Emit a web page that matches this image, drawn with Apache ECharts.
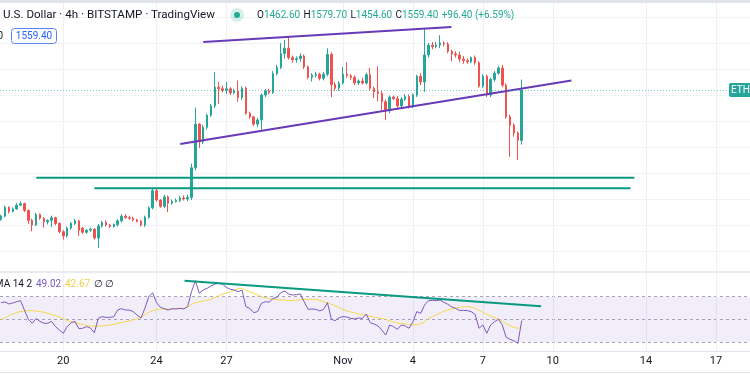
<!DOCTYPE html>
<html><head><meta charset="utf-8">
<script src="https://cdn.jsdelivr.net/npm/echarts@6/dist/echarts.min.js"></script>
<style>html,body{margin:0;padding:0;background:#fff}#c{width:750px;height:375px}</style>
</head><body><div id="c"></div>
<script>
// ---- data (ETH / U.S. Dollar, 4h, BITSTAMP) ----
// x positions are 4-hour slots counted from Oct 17 2022 00:00 UTC
const H4 = 4 * 3600 * 1000;
const slotOrigin = Date.UTC(2022, 9, 17, 0);
const firstCandleSlot = 2;

const opens = [
1311,1317,1334,1326,1331,1338,1341,1328,1309,1300,
1320,1313,1306,1309,1314,1303,1287,1279,1294,1303,
1308,1294,1286,1290,1292,1275,1298,1305,1300,1297,
1301,1308,1317,1314,1313,1310,1307,1300,1315,1333,
1366,1348,1336,1354,1342,1345,1347,1352,1350,1353,
1410,1494,1460,1488,1511,1529,1565,1562,1559,1562,
1554,1558,1545,1563,1515,1508,1494,1502,1550,1558,
1555,1591,1603,1630,1640,1622,1618,1620,1625,1604,
1584,1588,1590,1582,1590,1628,1570,1563,1573,1590,
1587,1584,1573,1577,1573,1589,1563,1556,1553,1537,
1520,1546,1543,1529,1542,1547,1529,1550,1586,1575,
1627,1646,1643,1646,1650,1648,1634,1629,1627,1619,
1616,1614,1622,1612,1567,1586,1550,1580,1592,1602,
1569,1508,1492,1477,1462.6];
const closes = [
1317,1334,1326,1331,1338,1341,1328,1309,1300,1320,
1313,1306,1309,1314,1303,1287,1279,1294,1303,1308,
1290,1286,1290,1292,1275,1298,1305,1300,1297,1301,
1308,1317,1314,1313,1310,1307,1300,1315,1333,1366,
1348,1336,1354,1342,1345,1347,1352,1350,1353,1410,
1494,1460,1488,1511,1529,1565,1562,1559,1562,1554,
1558,1545,1563,1515,1508,1494,1502,1550,1558,1555,
1591,1603,1630,1640,1622,1618,1620,1625,1604,1584,
1588,1590,1582,1590,1628,1570,1563,1573,1590,1587,
1584,1573,1577,1573,1589,1563,1556,1553,1537,1520,
1546,1543,1529,1542,1547,1529,1550,1586,1575,1627,
1646,1643,1646,1650,1648,1634,1629,1627,1619,1616,
1614,1622,1612,1567,1586,1550,1580,1592,1602,1569,
1508,1492,1477,1463.0,1559.4];
const lows = [
1308,1315,1322,1324,1329,1336,1325,1302,1288,1298,
1310,1295,1301,1296,1300,1284,1272,1276,1291,1300,
1279,1283,1283,1287,1272,1256,1295,1297,1294,1295,
1297,1305,1312,1310,1307,1305,1297,1296,1312,1330,
1345,1333,1333,1325,1339,1343,1344,1347,1346,1348,
1405,1448,1456,1484,1508,1525,1533,1555,1552,1550,
1551,1537,1540,1512,1504,1490,1488,1483,1546,1551,
1552,1588,1600,1620,1618,1612,1612,1614,1600,1580,
1576,1584,1578,1578,1586,1546,1558,1558,1570,1583,
1579,1569,1569,1570,1570,1559,1544,1538,1520,1502,
1515,1540,1525,1525,1539,1524,1525,1546,1569,1556,
1622,1638,1640,1640,1643,1630,1615,1622,1613,1610,
1610,1611,1608,1564,1563,1546,1546,1576,1589,1565,
1504,1431,1470,1425,1454.6];
const highs = [
1320,1337,1336,1334,1342,1345,1343,1330,1312,1323,
1322,1315,1311,1318,1316,1305,1290,1297,1306,1312,
1310,1296,1292,1295,1294,1302,1308,1309,1302,1303,
1311,1321,1321,1318,1316,1312,1310,1318,1336,1371,
1372,1350,1358,1357,1349,1351,1356,1357,1358,1418,
1526,1496,1492,1514,1533,1594,1575,1568,1575,1565,
1562,1578,1567,1566,1518,1510,1506,1553,1561,1562,
1596,1608,1650,1656,1662,1626,1624,1630,1628,1607,
1592,1595,1593,1594,1640,1632,1575,1577,1604,1613,
1590,1588,1580,1583,1593,1602,1566,1605,1558,1541,
1549,1549,1548,1546,1552,1551,1553,1589,1592,1679,
1650,1652,1652,1665,1653,1652,1637,1634,1633,1625,
1620,1624,1626,1615,1590,1589,1583,1596,1606,1608,
1572,1512,1495,1480,1579.7];

const rsiValues = [
64.8,65.4,63.6,64.5,65.6,66.5,58.3,50.2,46.7,50.8,
48.4,46.7,46.7,48.4,43.7,40.8,37.9,43.7,47.2,48.4,
42.0,42.3,43.7,42.5,38.4,51.0,52.5,51.9,51.9,52.5,
58.3,59.5,58.3,58.3,56.9,53.9,51.3,59.8,70.0,73.5,
64.8,60.7,59.5,58.3,59.5,59.2,59.8,59.2,61.2,74.4,
84.0,73.0,75.9,77.3,79.4,81.1,81.7,80.8,78.2,76.4,
75.9,74.4,75.9,61.2,59.8,56.0,56.9,64.2,65.6,65.3,
68.5,69.4,73.5,75.0,72.4,71.5,71.8,72.4,65.6,58.9,
59.2,58.9,57.5,58.9,64.8,50.2,49.0,51.6,52.5,52.2,
51.0,50.5,51.3,51.0,54.8,47.2,46.0,44.3,40.8,36.4,
45.2,43.7,41.4,45.2,44.3,42.3,48.1,56.9,55.4,62.7,
66.5,66.8,66.5,67.1,65.0,63.3,61.0,59.8,58.0,58.0,
57.8,56.9,54.5,42.3,45.2,37.9,45.2,48.1,50.2,45.2,
34.4,32.6,31.4,29.1,49.02];

const maSlots = [1.8,4.4,6.9,9.5,12.1,14.7,17.2,19.8,22.4,25,27.5,30.1,32.7,35.3,37.8,40.4,43,45.6,48.1,49.8,
51.6,53.3,55.9,58.4,61,63.6,64.9,67,69.6,72.2,74.7,77.3,79.9,82.5,85,87.6,90.2,92.8,95.3,98.3,
100.9,103.5,106.1,107.8,110.4,112.1,113.8,116.4,119,121.5,123.2,124.9,127.4,130,132.6,135.2,136];
const maValues = [49.6,53.9,56.9,57.8,56.9,54.8,51.9,48.1,46.1,44.3,44.3,45.2,47.2,49.0,51.9,56.9,59.2,59.2,59.8,60.7,
64.2,65.6,67.7,71.5,74.4,77.3,75.9,73.0,69.4,67.7,67.1,66.5,67.7,67.7,65.6,62.7,58.3,56.0,53.9,51.9,
50.2,47.2,46.1,45.2,46.7,51.0,53.9,57.8,59.8,61.2,60.7,58.3,53.9,50.2,45.2,42.3,42.67];

// drawn annotations: [slot, value] end points
const channelUpper = [[54.05, 1651.9], [117.9, 1680.8]];
const channelLower = [[48.1, 1455.8], [148.8, 1577.9]];
const supportHigh = [[11.05, 1391.0], [165.0, 1391.0]];
const supportLow  = [[26.0, 1370.6], [164.0, 1370.6]];
const rsiTrend = [[49.2, 84.0], [141.0, 61.6]];

const tickDays = ['2022-10-20','2022-10-24','2022-10-27','2022-11-01','2022-11-04','2022-11-07','2022-11-10','2022-11-14','2022-11-17'];
const tickLabels = ['20','24','27','Nov','4','7','10','14','17'];
const priceGrid = { min: 1250, max: 1700, step: 50 };

// ---- build ----
const tickSlots = tickDays.map(d => (Date.parse(d + 'T00:00:00Z') - slotOrigin) / H4);
const xMin = 1.71, xMax = 194.76;
const candleData = opens.map((o, k) => [firstCandleSlot + k, o, closes[k], lows[k], highs[k]]);
const rsiData = rsiValues.map((v, k) => [firstCandleSlot + k, v]);
const maData = maSlots.map((s, k) => [s, maValues[k]]);

const n = opens.length;
const lastO = opens[n-1], lastC = closes[n-1], lastH = highs[n-1], lastL = lows[n-1], prevC = closes[n-2];
const chg = lastC - prevC, pct = chg / prevC * 100;
const f2 = v => v.toFixed(2);
const sgn = v => (v >= 0 ? '+' : '');

const FONT = 'Roboto, "Noto Sans", sans-serif';
const UP = '#26a69a', DOWN = '#ef5350';

const chart = echarts.init(document.getElementById('c'));
const xHidden = (gi) => ({ type: 'value', gridIndex: gi, min: xMin, max: xMax, show: false });
const lineSeries = (data, color, width, xi, yi, extra) => Object.assign({
  type: 'line', data, xAxisIndex: xi, yAxisIndex: yi, symbol: 'none', silent: true,
  clip: false, lineStyle: { color, width }, z: 4
}, extra || {});

chart.setOption({
  animation: false,
  grid: [
    { left: 0, right: 0, top: 3, height: 348 },
    { left: 0, right: 0, top: 17, height: 234 },
    { left: 0, right: 0, top: 296.7, height: 45.6 }
  ],
  xAxis: [
    { type: 'value', gridIndex: 0, min: xMin, max: xMax,
      axisLine: { show: false },
      axisTick: { show: false, customValues: tickSlots },
      axisLabel: { customValues: tickSlots, color: '#131722', fontSize: 11, fontFamily: FONT, margin: 5,
        formatter: v => { const k = tickSlots.findIndex(t => Math.abs(t - v) < 0.01); return k >= 0 ? tickLabels[k] : ''; } },
      splitLine: { show: true, lineStyle: { color: '#eef0f5', width: 1 } } },
    xHidden(1), xHidden(2)
  ],
  yAxis: [
    { gridIndex: 0, type: 'value', show: false },
    { gridIndex: 1, type: 'value', min: priceGrid.min, max: priceGrid.max, interval: priceGrid.step,
      axisLine: { show: false }, axisTick: { show: false }, axisLabel: { show: false },
      splitLine: { show: true, lineStyle: { color: '#f0f2f6', width: 1 } } },
    { gridIndex: 2, type: 'value', min: 30, max: 70, interval: 20,
      axisLine: { show: false }, axisTick: { show: false }, axisLabel: { show: false },
      splitLine: { show: true, lineStyle: { color: '#a9a6b8', width: 1, type: [3, 3] } } }
  ],
  series: [
    { type: 'candlestick', xAxisIndex: 1, yAxisIndex: 1, data: candleData, barWidth: 2, silent: true, z: 3,
      itemStyle: { color: UP, color0: DOWN, borderColor: UP, borderColor0: DOWN, borderWidth: 1 },
      markLine: { silent: true, symbol: 'none', label: { show: false },
        lineStyle: { color: UP, type: [1, 2], width: 1, opacity: 0.6 },
        data: [{ yAxis: lastC }] } },
    lineSeries(channelUpper, '#673ab7', 2, 1, 1),
    lineSeries(channelLower, '#673ab7', 2, 1, 1),
    lineSeries(supportHigh, '#089981', 2, 1, 1),
    lineSeries(supportLow, '#089981', 2, 1, 1),
    lineSeries(rsiData, '#7e57c2', 1, 2, 2, {
      markArea: { silent: true, itemStyle: { color: 'rgba(126,87,194,0.10)' }, data: [[{ yAxis: 30 }, { yAxis: 70 }]] } }),
    lineSeries(maData, '#f5d84a', 1, 2, 2, { smooth: 0.3, z: 3 }),
    lineSeries(rsiTrend, '#089981', 2, 2, 2)
  ]
});

// overlay: panes, legend texts, price tag
const yLast = chart.convertToPixel({ yAxisIndex: 1 }, lastC);
const txt = (x, y, text, fill, size, align) => ({
  type: 'text', x, y, z: 100,
  style: { text, fill, font: `${size}px ${FONT}`, align: align || 'left', verticalAlign: 'middle' }
});
chart.setOption({
  graphic: [
    { type: 'rect', z: 100, shape: { x: 0, y: 0, width: 750, height: 3 }, style: { fill: '#e0e3eb' } },
    { type: 'rect', z: 100, shape: { x: 0, y: 271, width: 750, height: 2 }, style: { fill: '#e9ebf0' } },
    { type: 'rect', z: 100, shape: { x: 0, y: 351, width: 750, height: 1 }, style: { fill: '#e0e3eb' } },
    { type: 'rect', z: 100, shape: { x: 0, y: 372, width: 750, height: 1 }, style: { fill: '#e0e3eb' } },
    txt(3, 15, 'U.S. Dollar · 4h · BITSTAMP · TradingView', '#131722', 11.6),
    { type: 'circle', z: 100, shape: { cx: 237, cy: 15, r: 7 }, style: { fill: 'rgba(34,171,148,0.18)' } },
    { type: 'circle', z: 101, shape: { cx: 237, cy: 15, r: 3 }, style: { fill: '#22ab94' } },
    { type: 'text', x: 257, y: 15, z: 100, style: {
        text: `{k|O}{v|${f2(lastO)}} {k|H}{v|${f2(lastH)}} {k|L}{v|${f2(lastL)}} {k|C}{v|${f2(lastC)}} {v|${sgn(chg)}${f2(chg)} (${sgn(pct)}${f2(pct)}%)}`,
        verticalAlign: 'middle',
        rich: { k: { fill: '#131722', fontSize: 10, fontFamily: FONT }, v: { fill: '#22ab94', fontSize: 10, fontFamily: FONT } } } },
    txt(3, 36, '0', '#131722', 10, 'right'),
    { type: 'rect', z: 100, shape: { x: 11.5, y: 28.5, width: 45, height: 15, r: 3 }, style: { fill: '#fff', stroke: '#5b83f5', lineWidth: 1 } },
    txt(34, 36.5, f2(lastC), '#2962ff', 10, 'center'),
    { type: 'rect', z: 100, shape: { x: 729, y: yLast - 7, width: 30, height: 14, r: 2 }, style: { fill: UP } },
    txt(731, yLast, 'ETH', '#fff', 10),
    txt(32, 284, 'MA 14 2', '#131722', 10, 'right'),
    txt(36, 284, f2(rsiValues[n-1]), '#7e57c2', 10),
    txt(65, 284, f2(maValues[maValues.length-1]), '#f0d24b', 10),
    txt(94, 284, '∅', '#131722', 10),
    txt(105, 284, '∅', '#131722', 10)
  ]
});
</script>
</body></html>
